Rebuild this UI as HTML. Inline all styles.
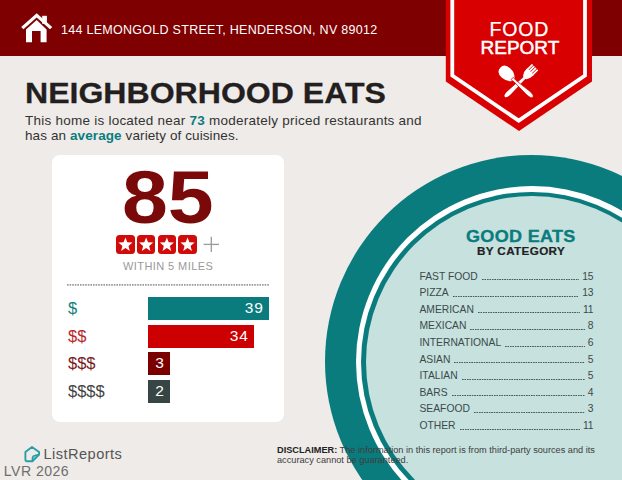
<!DOCTYPE html>
<html><head><meta charset="utf-8">
<style>
html,body{margin:0;padding:0;}
body{width:622px;height:480px;overflow:hidden;position:relative;background:#efebe8;font-family:"Liberation Sans",sans-serif;}
.a{position:absolute;white-space:nowrap;line-height:1;}
#hdr{position:absolute;left:0;top:0;width:622px;height:56.3px;background:#7e0000;}
#addr{left:61px;top:24px;font-size:12.5px;letter-spacing:0.28px;color:#fff;}
#title{left:24.9px;top:77.6px;font-size:30.3px;letter-spacing:0px;-webkit-text-stroke:0.3px #231f20;font-weight:bold;color:#231f20;transform:scaleX(1.058);transform-origin:0 0;}
#body1{left:25px;top:114.3px;font-size:13.5px;letter-spacing:0.24px;color:#333;}
#body2{left:25px;top:128.6px;font-size:13.5px;letter-spacing:0.1px;color:#333;}
.teal{color:#0b7c7e;font-weight:bold;}
#card{position:absolute;left:52px;top:155px;width:232px;height:267px;background:#fff;border-radius:8px;}
#n85{left:122px;top:161px;font-size:74px;font-weight:bold;color:#7a0a0a;transform:scaleX(1.114);transform-origin:0 0;}
.star{position:absolute;top:235px;width:18.5px;height:18.5px;background:#d10a0a;border-radius:3.5px;}
#within{left:123px;top:261px;font-size:11px;letter-spacing:0.42px;color:#999;}
.bar{position:absolute;left:148px;height:23px;color:#fff;font-size:15.5px;line-height:22.4px;letter-spacing:0.7px;text-align:right;box-sizing:border-box;}
.dl{position:absolute;left:68px;font-size:16.5px;line-height:1;}
#circ{position:absolute;left:325.20px;top:155.30px;width:413.20px;height:413.20px;border-radius:50%;background:#0b7c7e;}
#ring{position:absolute;left:355.60px;top:185.70px;width:352.40px;height:352.40px;border-radius:50%;background:#fff;}
#ring2{position:absolute;left:361.40px;top:191.50px;width:340.80px;height:340.80px;border-radius:50%;background:#0b7c7e;}
#fill{position:absolute;left:365.80px;top:195.90px;width:332.00px;height:332.00px;border-radius:50%;background:#c6e1de;}
#ge{left:466px;top:227.8px;font-size:17px;letter-spacing:0.3px;-webkit-text-stroke:0.35px #0b7c7e;font-weight:bold;color:#0b7c7e;transform:scaleX(1.06);transform-origin:0 0;}
#bycat{left:476.5px;top:246px;font-size:11px;letter-spacing:0.35px;-webkit-text-stroke:0.2px #1e2324;font-weight:bold;color:#1e2324;transform:scaleX(1.06);transform-origin:0 0;}
.row{position:absolute;left:419.5px;margin-top:0.7px;width:174.1px;height:12px;font-size:10.3px;line-height:12px;color:#3b4a4b;display:flex;}
.row .lbl{white-space:nowrap;}
.row .ld{flex:1;margin:0 3px 0 4px;height:9.8px;background-image:linear-gradient(to right,#4a5a5a 55%,transparent 55%);background-size:2.47px 1.2px;background-repeat:repeat-x;background-position:0 100%;}
.row .v{white-space:nowrap;}
#disc1{left:277px;top:446.4px;font-size:9.2px;color:#3d3d3d;}
#disc2{left:277px;top:456.2px;font-size:9.2px;color:#3d3d3d;}
#lr{left:43.5px;top:447.2px;font-size:14.6px;letter-spacing:0.45px;color:#555;}
#food{left:489.5px;top:19.8px;font-size:19.5px;letter-spacing:0.8px;-webkit-text-stroke:0.25px #fff;color:#fff;}
#report{left:480.5px;top:37.5px;font-size:19px;font-weight:normal;-webkit-text-stroke:0.5px #fff;letter-spacing:0px;color:#fff;}
#lvr{left:3.8px;top:463.6px;font-size:14.1px;letter-spacing:0.45px;color:#6e6e6e;}
</style></head>
<body>
<div id="hdr"></div>
<svg style="position:absolute;left:0;top:0" width="622" height="480">
  <!-- house -->
  <g fill="#fff">
    <rect x="42.2" y="15.8" width="4.7" height="8"/>
    <polygon points="36.7,13.2 52.2,27 50,29.3 36.7,17.4 23.4,29.3 21.2,27"/>
    <path d="M26,29.6 L36.7,20 L46.6,29.6 L46.6,42.3 L40.6,42.3 L40.6,31 L32,31 L32,42.3 L26,42.3 Z"/>
  </g>
</svg>
<div id="addr" class="a">144 LEMONGOLD STREET, HENDERSON, NV 89012</div>

<div id="circ"></div><div id="ring"></div><div id="ring2"></div><div id="fill"></div>

<svg style="position:absolute;left:0;top:0" width="622" height="480">
  <polygon points="445.8,0 592,0 592,81.5 519,131 445.8,81.5" fill="#d80000"/>
  <polyline points="452.3,0 452.3,75.5 518.7,120.6 585,75.5 585,0" fill="none" stroke="#fff" stroke-width="3.8"/>
  <g fill="#fff">
    <g transform="translate(535.4,67.3) rotate(135.9)">
      <rect x="0" y="-4.3" width="8" height="1.85" rx="0.6"/>
      <rect x="0" y="-1.85" width="8" height="1.85" rx="0.6"/>
      <rect x="0" y="0.6" width="8" height="1.85" rx="0.6"/>
      <rect x="0" y="3.05" width="8" height="1.85" rx="0.6"/>
      <path d="M6.5,-4.3 L8,-4.3 Q13.5,-4.3 15.5,-1.3 L36,-2.2 Q42.5,-2.4 42.5,0 Q42.5,2.4 36,2.2 L15.5,1.3 Q13.5,4.9 8,4.9 L6.5,4.9 Z"/>
    </g>
    <g transform="translate(500.2,67.8) rotate(42)">
      <path d="M0,0 Q0,-6.3 8,-6.3 Q14,-6.3 17.8,-1.7 L17.8,1.7 Q14,6.3 8,6.3 Q0,6.3 0,0 Z"/>
      <path d="M16,-1.6 L20,-1.2 L37,-2.3 Q44,-2.5 44,0 Q44,2.5 37,2.3 L20,1.2 L16,1.6 Z" stroke="#d80000" stroke-width="0.7"/>
    </g>
  </g>
</svg>

<div id="food" class="a">FOOD</div>
<div id="report" class="a">REPORT</div>
<div id="title" class="a">NEIGHBORHOOD EATS</div>
<div id="body1" class="a">This home is located near <span class="teal">73</span> moderately priced restaurants and</div>
<div id="body2" class="a">has an <span class="teal">average</span> variety of cuisines.</div>

<div id="card"></div>
<div id="n85" class="a">85</div>
<div class="star" style="left:116.2px"></div>
<div class="star" style="left:136.9px"></div>
<div class="star" style="left:157.6px"></div>
<div class="star" style="left:178.3px"></div>
<svg style="position:absolute;left:0;top:0" width="622" height="480">
  <g fill="#fff">
    <polygon id="st" points="0.00,-7.40 1.87,-2.57 7.04,-2.29 3.03,0.98 4.35,5.99 0.00,3.18 -4.35,5.99 -3.03,0.98 -7.04,-2.29 -1.87,-2.57" transform="translate(125.45,244.9)"/>
    <use href="#st" x="20.7"/>
    <use href="#st" x="41.4"/>
    <use href="#st" x="62.1"/>
  </g>
  <g stroke="#9a9a9a" stroke-width="1.3">
    <line x1="203.6" y1="244.4" x2="219" y2="244.4"/>
    <line x1="211.3" y1="236.8" x2="211.3" y2="252"/>
  </g>
</svg>
<div id="within" class="a">WITHIN 5 MILES</div>
<svg style="position:absolute;left:0;top:0" width="622" height="480"><line x1="67" y1="284.9" x2="269" y2="284.9" stroke="#9a9a9a" stroke-width="1.6" stroke-dasharray="1.6 1"/></svg>

<div class="dl" style="top:300px;color:#17807e">$</div>
<div class="dl" style="top:328px;color:#b8282a">$$</div>
<div class="dl" style="top:355px;color:#7a1a1c">$$$</div>
<div class="dl" style="top:383px;color:#444">$$$$</div>
<div class="bar" style="top:297px;width:120.5px;background:#0b7c7e;padding-right:5px">39</div>
<div class="bar" style="top:324.5px;width:106px;background:#cc0000;padding-right:5.5px">34</div>
<div class="bar" style="top:352px;width:22px;background:#7a0000;text-align:center;padding-left:1.8px">3</div>
<div class="bar" style="top:379.5px;width:22px;background:#384545;text-align:center;padding-left:1.8px">2</div>

<div id="ge" class="a">GOOD EATS</div>
<div id="bycat" class="a">BY CATEGORY</div>
<div class="row" style="top:270.00px"><span class="lbl">FAST FOOD</span><span class="ld"></span><span class="v">15</span></div>
<div class="row" style="top:286.58px"><span class="lbl">PIZZA</span><span class="ld"></span><span class="v">13</span></div>
<div class="row" style="top:303.16px"><span class="lbl">AMERICAN</span><span class="ld"></span><span class="v">11</span></div>
<div class="row" style="top:319.74px"><span class="lbl">MEXICAN</span><span class="ld"></span><span class="v">8</span></div>
<div class="row" style="top:336.32px"><span class="lbl">INTERNATIONAL</span><span class="ld"></span><span class="v">6</span></div>
<div class="row" style="top:352.90px"><span class="lbl">ASIAN</span><span class="ld"></span><span class="v">5</span></div>
<div class="row" style="top:369.48px"><span class="lbl">ITALIAN</span><span class="ld"></span><span class="v">5</span></div>
<div class="row" style="top:386.06px"><span class="lbl">BARS</span><span class="ld"></span><span class="v">4</span></div>
<div class="row" style="top:402.64px"><span class="lbl">SEAFOOD</span><span class="ld"></span><span class="v">3</span></div>
<div class="row" style="top:419.22px"><span class="lbl">OTHER</span><span class="ld"></span><span class="v">11</span></div>

<div id="disc1" class="a"><b style="color:#222">DISCLAIMER:</b> The information in this report is from third-party sources and its</div>
<div id="disc2" class="a">accuracy cannot be guaranteed.</div>

<svg style="position:absolute;left:0;top:0" width="622" height="480">
  <path d="M32.4,461.2 L32.6,457.4 Q33,455.8 35,455.5 L39.1,454.6 Z" fill="#8fdcdf"/>
  <path d="M25.4,452 L32,446.9 L39.1,452 L39.1,454.6 L32.4,461.2 L26.6,461.2 Q25.4,461.2 25.4,460 Z" fill="none" stroke="#2a9ea6" stroke-width="1.9" stroke-linejoin="round"/>
  <path d="M32.4,461.2 L32.6,457.4 Q33,455.8 35,455.5 L39.1,454.6" fill="none" stroke="#2a9ea6" stroke-width="1.7" stroke-linejoin="round"/>
</svg>
<div id="lr" class="a">ListReports</div>
<div id="lvr" class="a">LVR 2026</div>
</body></html>
